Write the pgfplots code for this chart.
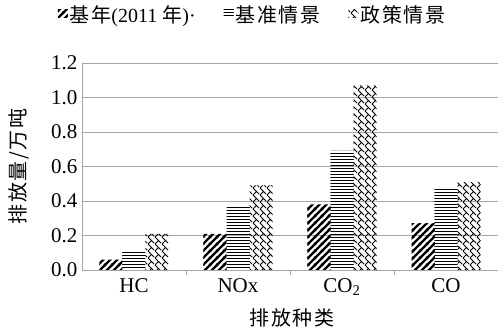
\documentclass[border=0pt]{standalone}
\usepackage{fontspec}
\setmainfont{Liberation Serif}
\newfontfamily\cjk[LetterSpace=8]{Noto Sans CJK SC}
\usepackage{pgfplots}
\pgfplotsset{compat=1.18}
\usetikzlibrary{patterns}

\pgfdeclarepatternformonly{thickne}{\pgfpoint{-1bp}{-1bp}}{\pgfpoint{8bp}{8bp}}{\pgfpoint{7bp}{7bp}}{
  \pgfsetlinewidth{2.4bp}
  \pgfpathmoveto{\pgfpoint{-1bp}{-1bp}}\pgfpathlineto{\pgfpoint{8bp}{8bp}}
  \pgfpathmoveto{\pgfpoint{-1bp}{6bp}}\pgfpathlineto{\pgfpoint{1bp}{8bp}}
  \pgfpathmoveto{\pgfpoint{6bp}{-1bp}}\pgfpathlineto{\pgfpoint{8bp}{1bp}}
  \pgfusepath{stroke}}
\pgfdeclarepatternformonly{hlines}{\pgfpoint{-1bp}{0bp}}{\pgfpoint{4bp}{3bp}}{\pgfpoint{3bp}{3bp}}{
  \pgfsetlinewidth{1.5bp}
  \pgfpathmoveto{\pgfpoint{-1bp}{1.5bp}}\pgfpathlineto{\pgfpoint{4bp}{1.5bp}}
  \pgfusepath{stroke}}
\pgfdeclarepatternformonly{zigzag}{\pgfpoint{-1bp}{-1bp}}{\pgfpoint{8bp}{8bp}}{\pgfpoint{7bp}{7bp}}{
  \pgfsetlinewidth{0.8bp}
  \pgfpathmoveto{\pgfpoint{1bp}{0bp}}\pgfpathlineto{\pgfpoint{4.5bp}{3.5bp}}\pgfpathlineto{\pgfpoint{1bp}{7bp}}
  \pgfpathmoveto{\pgfpoint{4.5bp}{3.5bp}}\pgfpathlineto{\pgfpoint{7bp}{1bp}}
  \pgfusepath{stroke}}

\begin{document}
\begin{tikzpicture}
\path[use as bounding box] (-82bp,-65bp) rectangle (416bp,270bp);
\begin{axis}[
  at={(0,0)}, anchor=south west,
  scale only axis, width=416bp, height=207bp,
  xmin=-0.5, xmax=3.5, ymin=0, ymax=1.2,
  ytick={0,0.2,0.4,0.6,0.8,1.0,1.2},
  /pgf/number format/fixed, /pgf/number format/fixed zerofill, /pgf/number format/precision=1,
  /pgf/number format/assume math mode=true,
  ybar=0pt, bar width=23bp,
  xtick={0,1,2,3},
  xticklabels={HC,NOx,CO\textsubscript{2},CO},
  major tick length=0pt,
  extra x ticks={0.5,1.5,2.5},
  extra x tick labels={},
  extra x tick style={major tick length=5bp, tick align=outside, grid=none, tick style={draw=gray!70, line width=0.8bp}},
  axis x line*=bottom, axis y line*=left,
  axis line style={-, draw=gray!70, line width=0.8bp},
  ymajorgrids, grid style={draw=gray!70, line width=0.8bp},
  tick label style={font=\fontsize{21bp}{24bp}\selectfont},
  yticklabel style={xshift=-1bp},
  xticklabel style={yshift=-5bp},
  xlabel={\cjk 排放种类},
  ylabel={\cjk 排放量/万吨},
  label style={font=\fontsize{20bp}{24bp}\selectfont},
  xlabel style={at={(axis description cs:0.505,0)}, anchor=center, yshift=-48bp},
  ylabel style={at={(axis description cs:-0.151,0.5)}, anchor=center},
  legend columns=3,
  legend style={draw=none, at={(axis description cs:0.41,1)}, anchor=center, yshift=48bp,
    font=\fontsize{20bp}{24bp}\selectfont, /tikz/every even column/.append style={column sep=26bp}},
  legend image code/.code={\fill[#1,draw=none] (0bp,-3bp) rectangle (10bp,5bp);},
]
\addplot[draw=none, pattern=thickne] coordinates {(0,0.06) (1,0.21) (2,0.38) (3,0.27)};
\addplot[draw=none, pattern=hlines] coordinates {(0,0.11) (1,0.37) (2,0.69) (3,0.47)};
\addplot[draw=none, pattern=zigzag] coordinates {(0,0.21) (1,0.49) (2,1.07) (3,0.51)};
\legend{{\cjk 基年}(2011 {\cjk 年})\textperiodcentered, {\cjk 基准情景}, {\cjk 政策情景}}
\end{axis}
\end{tikzpicture}
\end{document}
